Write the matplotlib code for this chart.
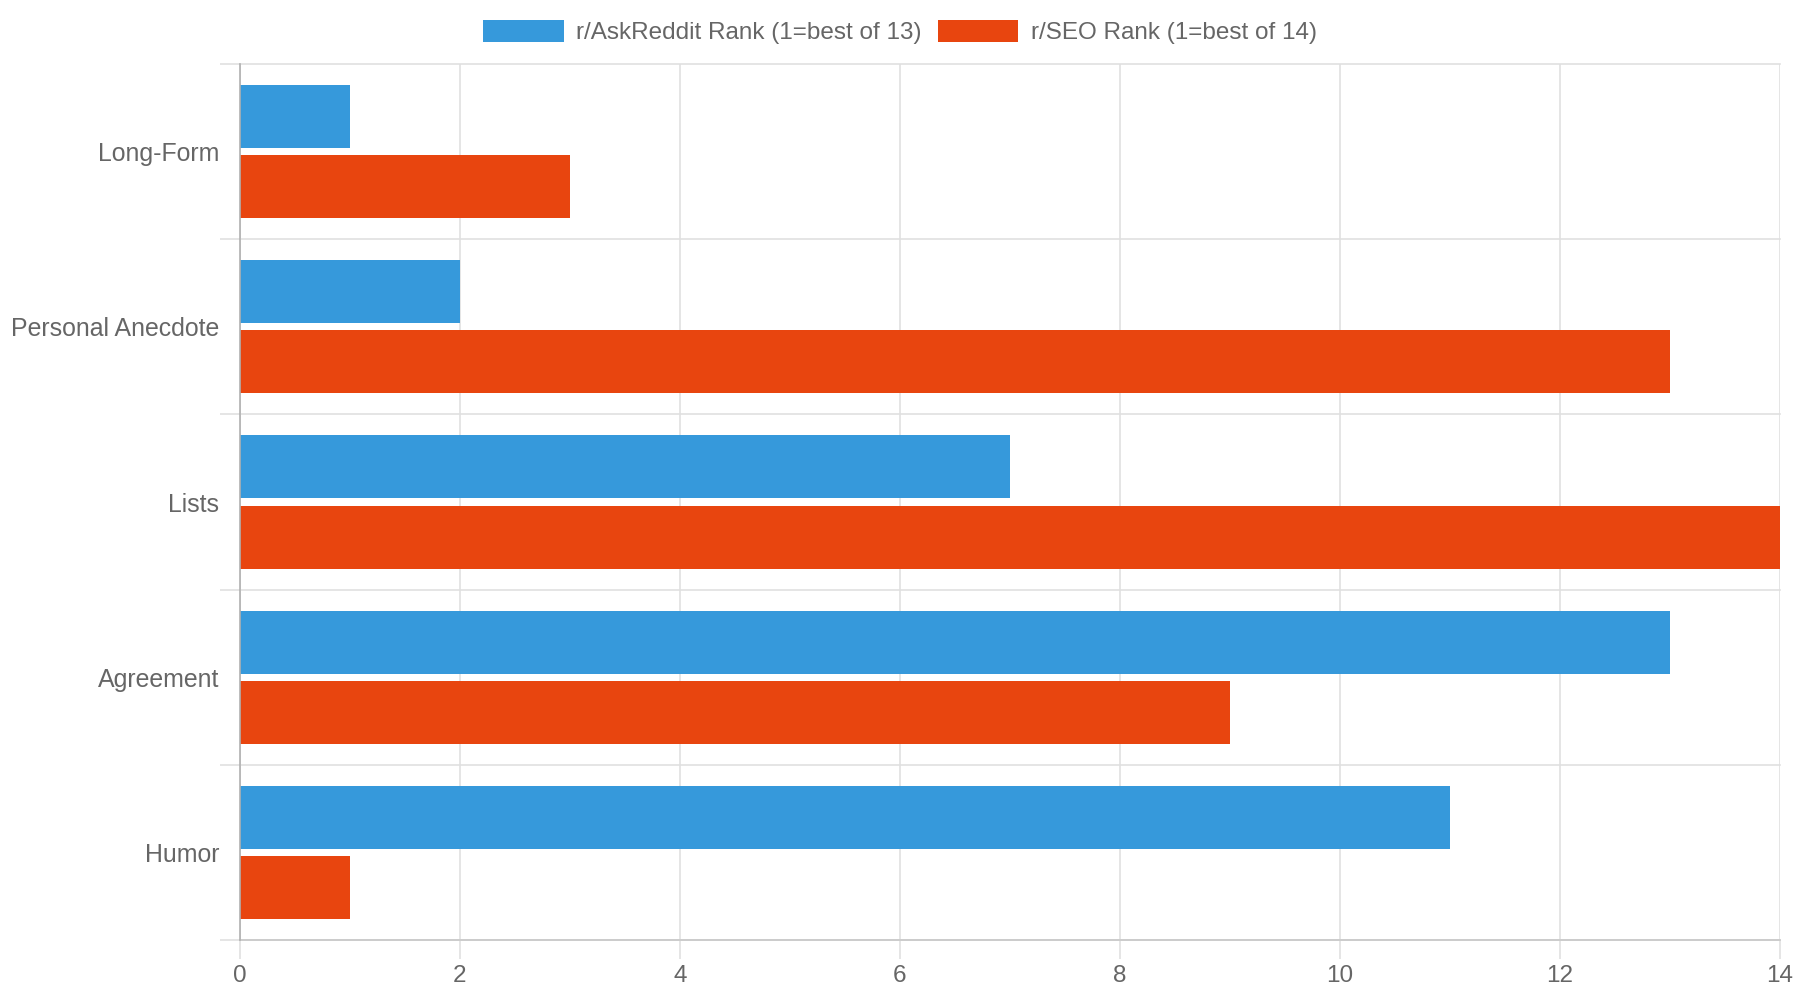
import matplotlib
matplotlib.use("Agg")
import matplotlib.pyplot as plt
from matplotlib.patches import Patch
import numpy as np

categories = ["Long-Form", "Personal Anecdote", "Lists", "Agreement", "Humor"]
askreddit_rank = [1, 2, 7, 13, 11]
seo_rank = [3, 13, 14, 9, 1]
series_labels = ["r/AskReddit Rank (1=best of 13)", "r/SEO Rank (1=best of 14)"]
x_ticks = [0, 2, 4, 6, 8, 10, 12, 14]

blue = "#3699db"
red = "#e8450f"
text_color = "#666666"
grid_color = "#e0e0e0"

plt.rcParams['font.family'] = ['Liberation Sans', 'DejaVu Sans']

fig = plt.figure(figsize=(18, 10), dpi=100)
ax = fig.add_axes([240/1800, 60/1000, 1540/1800, 876/1000])

y = np.arange(len(categories))
h = 0.36
ax.barh(y - 0.2, askreddit_rank, height=h, color=blue, zorder=3)
ax.barh(y + 0.2, seo_rank, height=h, color=red, zorder=3)

ax.set_xlim(0, 14)
ax.set_ylim(len(categories) - 0.5, -0.5)
ax.set_xticks(x_ticks)
ax.set_xticklabels([str(t) for t in x_ticks])
ax.set_yticks(y)
ax.set_yticklabels(categories)

# category boundary grid lines with ticks extending left
bounds = np.arange(-0.5, len(categories) + 0.5, 1.0)
ax.set_yticks(bounds, minor=True)
for b in bounds:
    ax.axhline(b, color=grid_color, lw=1.2, zorder=1, clip_on=False)
ax.tick_params(axis='y', which='minor', length=14.4, color=grid_color, width=1.2)
ax.tick_params(axis='y', which='major', length=0, pad=15, labelsize=17.9, labelcolor=text_color)

ax.grid(axis='x', color=grid_color, lw=1.2, zorder=1)
ax.tick_params(axis='x', which='major', length=14, color=grid_color, width=1.2,
               pad=4, labelsize=17.5, labelcolor=text_color)

for s in ['top', 'right']:
    ax.spines[s].set_visible(False)
ax.spines['left'].set_color('#b0b0b0')
ax.spines['left'].set_linewidth(1.2)
ax.spines['bottom'].set_color('#c8c8c8')
ax.spines['bottom'].set_linewidth(1.2)
ax.spines['left'].set_zorder(4)

handles = [Patch(facecolor=blue, label=series_labels[0]),
           Patch(facecolor=red, label=series_labels[1])]
fig.legend(handles=handles, loc='center', bbox_to_anchor=(0.5, 0.968), ncol=2,
           frameon=False, fontsize=17.5, labelcolor=text_color,
           handlelength=3.3, handleheight=1.0, handletextpad=0.5, columnspacing=0.7)

fig.savefig("out.png", dpi=100)
